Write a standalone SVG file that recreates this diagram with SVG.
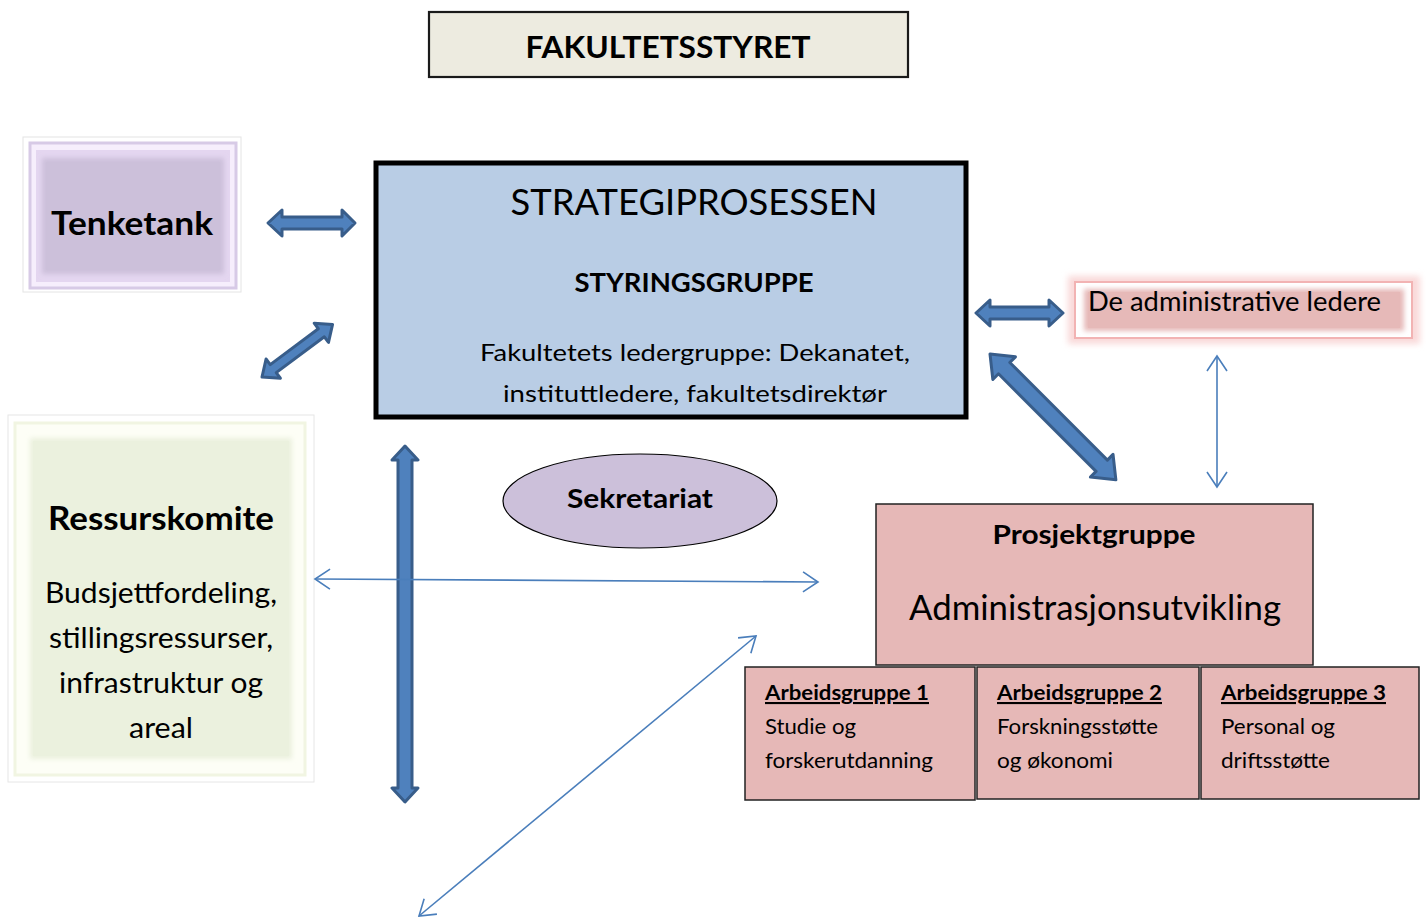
<svg xmlns="http://www.w3.org/2000/svg" width="1426" height="918" viewBox="0 0 1426 918">
<defs>
<style>
.t{font-family:Lato,"Open Sans","Liberation Sans",sans-serif;fill:#000}
.b{font-weight:bold}
.blk{fill:#4F81BD;stroke:#385D8A;stroke-width:3;stroke-linejoin:round}
.thin{fill:none;stroke:#4A7EBB;stroke-width:1.6;marker-start:url(#oh);marker-end:url(#oh)}
</style>
<marker id="oh" viewBox="-17 -11 19 22" markerWidth="19" markerHeight="22" refX="0" refY="0" orient="auto-start-reverse" markerUnits="userSpaceOnUse">
<path d="M-15,-10 L0,0 L-15,10" fill="none" stroke="#4A7EBB" stroke-width="1.6"/>
</marker>
<filter id="blur" x="-10%" y="-30%" width="120%" height="160%"><feGaussianBlur stdDeviation="3"/></filter>
<filter id="soft" x="-10%" y="-10%" width="120%" height="120%"><feGaussianBlur stdDeviation="2.5"/></filter>
</defs>

<g id="fakultetsstyret">
<rect x="429" y="12" width="479" height="65" fill="#EDEBE0" stroke="#1a1a1a" stroke-width="2.2"/>
<text class="t b" x="668" y="58" font-size="31" text-anchor="middle" textLength="285" lengthAdjust="spacingAndGlyphs">FAKULTETSSTYRET</text>
</g>

<g id="tenketank">
<rect x="23" y="137" width="218" height="155" fill="#fff" stroke="#e4e4e4" stroke-width="1"/>
<rect x="30" y="143" width="206" height="145" fill="#F6EEFC" stroke="#D7CAE6" stroke-width="3"/>
<rect x="36" y="150" width="194" height="132" fill="#E4D6F0"/>
<rect x="42" y="158" width="182" height="116" fill="#CCC0DA" filter="url(#soft)"/>
<rect x="46" y="162" width="174" height="108" fill="#CCC0DA"/>
<text class="t b" x="132" y="235" font-size="32" text-anchor="middle" textLength="162" lengthAdjust="spacingAndGlyphs">Tenketank</text>
</g>

<g id="strategiprosessen">
<rect x="376" y="163" width="590" height="254" fill="#B9CDE5" stroke="#000" stroke-width="5"/>
<text class="t" x="694" y="215" font-size="37" text-anchor="middle" textLength="367" lengthAdjust="spacingAndGlyphs">STRATEGIPROSESSEN</text>
<text class="t b" x="694" y="292" font-size="26" text-anchor="middle" textLength="239" lengthAdjust="spacingAndGlyphs">STYRINGSGRUPPE</text>
<text class="t" x="695" y="361" font-size="24" text-anchor="middle" textLength="430" lengthAdjust="spacingAndGlyphs">Fakultetets ledergruppe: Dekanatet,</text>
<text class="t" x="695" y="402" font-size="24" text-anchor="middle" textLength="384" lengthAdjust="spacingAndGlyphs">instituttledere, fakultetsdirektør</text>
</g>

<g id="administrative-ledere">
<rect x="1068" y="276" width="352" height="68" fill="#F9D9D9" filter="url(#blur)"/>
<rect x="1075" y="282" width="337" height="56" fill="#fff" stroke="#F2B3B3" stroke-width="2"/>
<rect x="1084" y="289" width="320" height="42" fill="#E6B9B8" filter="url(#soft)"/>
<rect x="1088" y="292" width="312" height="36" fill="#E6B9B8"/>
<text class="t" x="1088" y="311" font-size="26" textLength="293" lengthAdjust="spacingAndGlyphs">De administrative ledere</text>
</g>

<g id="ressurskomite">
<rect x="8" y="415" width="306" height="367" fill="#fff" stroke="#e6e6e6" stroke-width="1"/>
<rect x="15" y="423" width="290" height="352" fill="#FDFEF6" stroke="#F1F5E2" stroke-width="3"/>
<rect x="30" y="438" width="262" height="321" fill="#EBF1DE" filter="url(#soft)"/>
<rect x="33" y="441" width="256" height="315" fill="#EBF1DE"/>
<text class="t b" x="161" y="530" font-size="32" text-anchor="middle" textLength="226" lengthAdjust="spacingAndGlyphs">Ressurskomite</text>
<text class="t" x="161" y="603" font-size="28" text-anchor="middle" textLength="232" lengthAdjust="spacingAndGlyphs">Budsjettfordeling,</text>
<text class="t" x="161" y="648" font-size="28" text-anchor="middle" textLength="224" lengthAdjust="spacingAndGlyphs">stillingsressurser,</text>
<text class="t" x="161" y="693" font-size="28" text-anchor="middle" textLength="204" lengthAdjust="spacingAndGlyphs">infrastruktur og</text>
<text class="t" x="161" y="738" font-size="28" text-anchor="middle" textLength="64" lengthAdjust="spacingAndGlyphs">areal</text>
</g>

<g id="sekretariat">
<ellipse cx="640" cy="501" rx="137" ry="47" fill="#CCC0DA" stroke="#000" stroke-width="1.2"/>
<text class="t b" x="640" y="508" font-size="27" text-anchor="middle" textLength="146" lengthAdjust="spacingAndGlyphs">Sekretariat</text>
</g>

<g id="prosjektgruppe">
<rect x="876" y="504" width="437" height="161" fill="#E6B8B7" stroke="#222" stroke-width="1.5"/>
<text class="t b" x="1094" y="544" font-size="27" text-anchor="middle" textLength="203" lengthAdjust="spacingAndGlyphs">Prosjektgruppe</text>
<text class="t" x="1095" y="620" font-size="34" text-anchor="middle" textLength="372" lengthAdjust="spacingAndGlyphs">Administrasjonsutvikling</text>
</g>

<g id="arbeidsgruppe1">
<rect x="745" y="667" width="230" height="133" fill="#E6B8B7" stroke="#222" stroke-width="1.5"/>
<text class="t b" x="765" y="700" font-size="21" text-decoration="underline" textLength="164" lengthAdjust="spacingAndGlyphs">Arbeidsgruppe 1</text>
<text class="t" x="765" y="734" font-size="21" textLength="91" lengthAdjust="spacingAndGlyphs">Studie og</text>
<text class="t" x="765" y="768" font-size="21" textLength="168" lengthAdjust="spacingAndGlyphs">forskerutdanning</text>
</g>

<g id="arbeidsgruppe2">
<rect x="977" y="667" width="222" height="132" fill="#E6B8B7" stroke="#222" stroke-width="1.5"/>
<text class="t b" x="997" y="700" font-size="21" text-decoration="underline" textLength="165" lengthAdjust="spacingAndGlyphs">Arbeidsgruppe 2</text>
<text class="t" x="997" y="734" font-size="21" textLength="161" lengthAdjust="spacingAndGlyphs">Forskningsstøtte</text>
<text class="t" x="997" y="768" font-size="21" textLength="116" lengthAdjust="spacingAndGlyphs">og økonomi</text>
</g>

<g id="arbeidsgruppe3">
<rect x="1201" y="667" width="218" height="132" fill="#E6B8B7" stroke="#222" stroke-width="1.5"/>
<text class="t b" x="1221" y="700" font-size="21" text-decoration="underline" textLength="165" lengthAdjust="spacingAndGlyphs">Arbeidsgruppe 3</text>
<text class="t" x="1221" y="734" font-size="21" textLength="114" lengthAdjust="spacingAndGlyphs">Personal og</text>
<text class="t" x="1221" y="768" font-size="21" textLength="109" lengthAdjust="spacingAndGlyphs">driftsstøtte</text>
</g>

<g id="connectors">
<path class="blk" transform="translate(268,223)" d="M0,0 L14,-13 L14,-6 L74,-6 L74,-13 L87,0 L74,13 L74,6 L14,6 L14,13 Z"/>
<path class="blk" transform="translate(262,377) rotate(-36.7)" d="M0,0 L14,-12 L14,-5 L74,-5 L74,-12 L88,0 L74,12 L74,5 L14,5 L14,12 Z"/>
<path class="blk" transform="translate(976,313)" d="M0,0 L14,-13 L14,-6 L73,-6 L73,-13 L87,0 L73,13 L73,6 L14,6 L14,13 Z"/>
<path class="blk" transform="translate(990,354) rotate(45)" d="M0,0 L20,-16 L20,-8 L158,-8 L158,-16 L178,0 L158,16 L158,8 L20,8 L20,16 Z"/>
<path class="blk" transform="translate(405,446) rotate(90)" d="M0,0 L14,-13 L14,-7 L342,-7 L342,-13 L356,0 L342,13 L342,7 L14,7 L14,13 Z"/>
<line class="thin" x1="315" y1="579" x2="818" y2="582"/>
<line class="thin" x1="1217" y1="356" x2="1217" y2="487"/>
<line class="thin" x1="419" y1="916" x2="756" y2="636"/>
</g>
</svg>
